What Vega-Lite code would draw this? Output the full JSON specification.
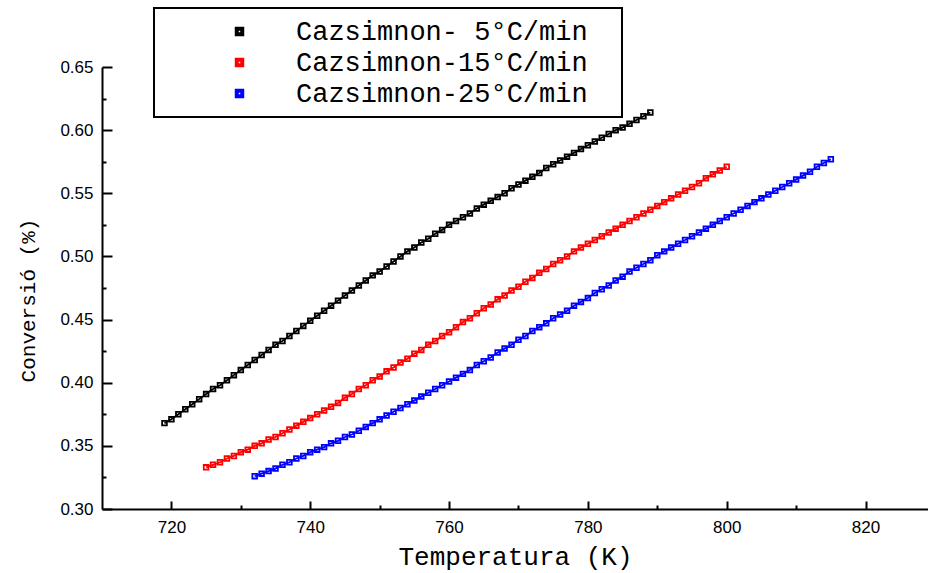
{
  "$schema": "https://vega.github.io/schema/vega-lite/v6.json",
  "width": 826,
  "height": 442,
  "autosize": {"type": "none"},
  "padding": {"left": 102, "top": 67, "right": 0, "bottom": 64},
  "background": "white",
  "config": {
    "view": {"stroke": null},
    "axis": {"grid": false, "domainColor": "black", "tickColor": "black", "domainWidth": 2, "tickWidth": 2, "labelColor": "black", "titleColor": "black"},
    "legend": {"strokeWidth": 2}
  },
  "data": {"values": [
    {"s":"5","T":719,"c":0.368},{"s":"5","T":720,"c":0.371},{"s":"5","T":721,"c":0.375},{"s":"5","T":722,"c":0.379},{"s":"5","T":723,"c":0.383},{"s":"5","T":724,"c":0.387},{"s":"5","T":725,"c":0.391},{"s":"5","T":726,"c":0.395},{"s":"5","T":727,"c":0.398},{"s":"5","T":728,"c":0.402},{"s":"5","T":729,"c":0.406},{"s":"5","T":730,"c":0.410},{"s":"5","T":731,"c":0.414},{"s":"5","T":732,"c":0.418},{"s":"5","T":733,"c":0.422},{"s":"5","T":734,"c":0.426},{"s":"5","T":735,"c":0.430},{"s":"5","T":736,"c":0.433},{"s":"5","T":737,"c":0.437},{"s":"5","T":738,"c":0.441},{"s":"5","T":739,"c":0.445},{"s":"5","T":740,"c":0.449},{"s":"5","T":741,"c":0.453},{"s":"5","T":742,"c":0.457},{"s":"5","T":743,"c":0.461},{"s":"5","T":744,"c":0.465},{"s":"5","T":745,"c":0.469},{"s":"5","T":746,"c":0.473},{"s":"5","T":747,"c":0.477},{"s":"5","T":748,"c":0.481},{"s":"5","T":749,"c":0.485},{"s":"5","T":750,"c":0.488},{"s":"5","T":751,"c":0.492},{"s":"5","T":752,"c":0.496},{"s":"5","T":753,"c":0.500},{"s":"5","T":754,"c":0.504},{"s":"5","T":755,"c":0.507},{"s":"5","T":756,"c":0.511},{"s":"5","T":757,"c":0.514},{"s":"5","T":758,"c":0.518},{"s":"5","T":759,"c":0.521},{"s":"5","T":760,"c":0.525},{"s":"5","T":761,"c":0.528},{"s":"5","T":762,"c":0.531},{"s":"5","T":763,"c":0.534},{"s":"5","T":764,"c":0.538},{"s":"5","T":765,"c":0.541},{"s":"5","T":766,"c":0.544},{"s":"5","T":767,"c":0.547},{"s":"5","T":768,"c":0.550},{"s":"5","T":769,"c":0.554},{"s":"5","T":770,"c":0.557},{"s":"5","T":771,"c":0.560},{"s":"5","T":772,"c":0.563},{"s":"5","T":773,"c":0.566},{"s":"5","T":774,"c":0.570},{"s":"5","T":775,"c":0.573},{"s":"5","T":776,"c":0.576},{"s":"5","T":777,"c":0.579},{"s":"5","T":778,"c":0.582},{"s":"5","T":779,"c":0.585},{"s":"5","T":780,"c":0.588},{"s":"5","T":781,"c":0.591},{"s":"5","T":782,"c":0.594},{"s":"5","T":783,"c":0.597},{"s":"5","T":784,"c":0.600},{"s":"5","T":785,"c":0.602},{"s":"5","T":786,"c":0.605},{"s":"5","T":787,"c":0.608},{"s":"5","T":788,"c":0.611},{"s":"5","T":789,"c":0.614},
    {"s":"15","T":725,"c":0.333},{"s":"15","T":726,"c":0.335},{"s":"15","T":727,"c":0.337},{"s":"15","T":728,"c":0.340},{"s":"15","T":729,"c":0.342},{"s":"15","T":730,"c":0.345},{"s":"15","T":731,"c":0.347},{"s":"15","T":732,"c":0.350},{"s":"15","T":733,"c":0.352},{"s":"15","T":734,"c":0.355},{"s":"15","T":735,"c":0.357},{"s":"15","T":736,"c":0.360},{"s":"15","T":737,"c":0.363},{"s":"15","T":738,"c":0.366},{"s":"15","T":739,"c":0.369},{"s":"15","T":740,"c":0.372},{"s":"15","T":741,"c":0.375},{"s":"15","T":742,"c":0.378},{"s":"15","T":743,"c":0.381},{"s":"15","T":744,"c":0.384},{"s":"15","T":745,"c":0.388},{"s":"15","T":746,"c":0.391},{"s":"15","T":747,"c":0.395},{"s":"15","T":748,"c":0.398},{"s":"15","T":749,"c":0.402},{"s":"15","T":750,"c":0.405},{"s":"15","T":751,"c":0.409},{"s":"15","T":752,"c":0.412},{"s":"15","T":753,"c":0.416},{"s":"15","T":754,"c":0.419},{"s":"15","T":755,"c":0.423},{"s":"15","T":756,"c":0.426},{"s":"15","T":757,"c":0.430},{"s":"15","T":758,"c":0.433},{"s":"15","T":759,"c":0.437},{"s":"15","T":760,"c":0.440},{"s":"15","T":761,"c":0.444},{"s":"15","T":762,"c":0.448},{"s":"15","T":763,"c":0.451},{"s":"15","T":764,"c":0.455},{"s":"15","T":765,"c":0.459},{"s":"15","T":766,"c":0.462},{"s":"15","T":767,"c":0.466},{"s":"15","T":768,"c":0.469},{"s":"15","T":769,"c":0.473},{"s":"15","T":770,"c":0.476},{"s":"15","T":771,"c":0.480},{"s":"15","T":772,"c":0.483},{"s":"15","T":773,"c":0.487},{"s":"15","T":774,"c":0.490},{"s":"15","T":775,"c":0.494},{"s":"15","T":776,"c":0.497},{"s":"15","T":777,"c":0.500},{"s":"15","T":778,"c":0.504},{"s":"15","T":779,"c":0.507},{"s":"15","T":780,"c":0.510},{"s":"15","T":781,"c":0.513},{"s":"15","T":782,"c":0.516},{"s":"15","T":783,"c":0.519},{"s":"15","T":784,"c":0.522},{"s":"15","T":785,"c":0.525},{"s":"15","T":786,"c":0.528},{"s":"15","T":787,"c":0.531},{"s":"15","T":788,"c":0.534},{"s":"15","T":789,"c":0.537},{"s":"15","T":790,"c":0.540},{"s":"15","T":791,"c":0.543},{"s":"15","T":792,"c":0.546},{"s":"15","T":793,"c":0.549},{"s":"15","T":794,"c":0.552},{"s":"15","T":795,"c":0.555},{"s":"15","T":796,"c":0.558},{"s":"15","T":797,"c":0.562},{"s":"15","T":798,"c":0.565},{"s":"15","T":799,"c":0.568},{"s":"15","T":800,"c":0.571},
    {"s":"25","T":732,"c":0.326},{"s":"25","T":733,"c":0.328},{"s":"25","T":734,"c":0.330},{"s":"25","T":735,"c":0.332},{"s":"25","T":736,"c":0.335},{"s":"25","T":737,"c":0.337},{"s":"25","T":738,"c":0.340},{"s":"25","T":739,"c":0.342},{"s":"25","T":740,"c":0.345},{"s":"25","T":741,"c":0.347},{"s":"25","T":742,"c":0.349},{"s":"25","T":743,"c":0.352},{"s":"25","T":744,"c":0.354},{"s":"25","T":745,"c":0.357},{"s":"25","T":746,"c":0.359},{"s":"25","T":747,"c":0.362},{"s":"25","T":748,"c":0.365},{"s":"25","T":749,"c":0.368},{"s":"25","T":750,"c":0.371},{"s":"25","T":751,"c":0.374},{"s":"25","T":752,"c":0.377},{"s":"25","T":753,"c":0.380},{"s":"25","T":754,"c":0.383},{"s":"25","T":755,"c":0.386},{"s":"25","T":756,"c":0.389},{"s":"25","T":757,"c":0.392},{"s":"25","T":758,"c":0.395},{"s":"25","T":759,"c":0.398},{"s":"25","T":760,"c":0.401},{"s":"25","T":761,"c":0.404},{"s":"25","T":762,"c":0.407},{"s":"25","T":763,"c":0.410},{"s":"25","T":764,"c":0.414},{"s":"25","T":765,"c":0.417},{"s":"25","T":766,"c":0.420},{"s":"25","T":767,"c":0.424},{"s":"25","T":768,"c":0.427},{"s":"25","T":769,"c":0.430},{"s":"25","T":770,"c":0.434},{"s":"25","T":771,"c":0.437},{"s":"25","T":772,"c":0.441},{"s":"25","T":773,"c":0.444},{"s":"25","T":774,"c":0.447},{"s":"25","T":775,"c":0.451},{"s":"25","T":776,"c":0.454},{"s":"25","T":777,"c":0.457},{"s":"25","T":778,"c":0.461},{"s":"25","T":779,"c":0.464},{"s":"25","T":780,"c":0.467},{"s":"25","T":781,"c":0.471},{"s":"25","T":782,"c":0.474},{"s":"25","T":783,"c":0.477},{"s":"25","T":784,"c":0.481},{"s":"25","T":785,"c":0.484},{"s":"25","T":786,"c":0.488},{"s":"25","T":787,"c":0.491},{"s":"25","T":788,"c":0.494},{"s":"25","T":789,"c":0.497},{"s":"25","T":790,"c":0.501},{"s":"25","T":791,"c":0.504},{"s":"25","T":792,"c":0.507},{"s":"25","T":793,"c":0.510},{"s":"25","T":794,"c":0.513},{"s":"25","T":795,"c":0.516},{"s":"25","T":796,"c":0.519},{"s":"25","T":797,"c":0.522},{"s":"25","T":798,"c":0.525},{"s":"25","T":799,"c":0.528},{"s":"25","T":800,"c":0.531},{"s":"25","T":801,"c":0.534},{"s":"25","T":802,"c":0.537},{"s":"25","T":803,"c":0.540},{"s":"25","T":804,"c":0.543},{"s":"25","T":805,"c":0.546},{"s":"25","T":806,"c":0.549},{"s":"25","T":807,"c":0.552},{"s":"25","T":808,"c":0.555},{"s":"25","T":809,"c":0.558},{"s":"25","T":810,"c":0.561},{"s":"25","T":811,"c":0.564},{"s":"25","T":812,"c":0.567},{"s":"25","T":813,"c":0.571},{"s":"25","T":814,"c":0.574},{"s":"25","T":815,"c":0.577}
  ]},
  "encoding": {
    "color": {
      "field": "s", "type": "nominal",
      "scale": {"domain": ["5", "15", "25"], "range": ["#000000", "#ff0000", "#0000ff"]},
      "legend": {
        "orient": "none", "legendX": 52, "legendY": -59,
        "title": " ", "titleOrient": "right", "titlePadding": 24, "titleFontSize": 4,
        "labelExpr": "datum.label == '5' ? 'Cazsimnon- 5°C/min' : 'Cazsimnon-' + datum.label + '°C/min'",
        "labelFont": "Liberation Mono", "labelFontSize": 27, "labelColor": "black", "labelLimit": 600,
        "labelOffset": 43, "symbolOffset": 62, "symbolType": "square", "symbolSize": 30, "symbolStrokeWidth": 4,
        "padding": 10, "rowPadding": 3, "strokeColor": "black", "fillColor": "white"
      }
    }
  },
  "layer": [
    {
      "mark": {"type": "line", "strokeWidth": 1.8},
      "encoding": {
        "x": {"field": "T", "type": "quantitative",
          "scale": {"domain": [710, 829], "nice": false, "zero": false},
          "axis": {"orient": "bottom", "values": [720, 740, 760, 780, 800, 820], "tickSize": -8, "labelPadding": 18,
            "labelFont": "Liberation Sans", "labelFontSize": 17, "labelFlush": false,
            "title": "Temperatura (K)", "titleFont": "Liberation Mono", "titleFontSize": 26, "titleFontWeight": "normal", "titlePadding": 8}},
        "y": {"field": "c", "type": "quantitative",
          "scale": {"domain": [0.30, 0.65], "nice": false, "zero": false},
          "axis": {"orient": "left", "values": [0.30, 0.35, 0.40, 0.45, 0.50, 0.55, 0.60, 0.65], "format": ".2f", "tickSize": -10, "labelPadding": 19,
            "labelFont": "Liberation Sans", "labelFontSize": 17, "labelFlush": false,
            "title": "Conversió (%)", "titleFont": "Liberation Mono", "titleFontSize": 21, "titleFontWeight": "normal", "titlePadding": 21, "titleY": 233}}
      }
    },
    {
      "mark": {"type": "point", "shape": "square", "filled": false, "size": 22, "strokeWidth": 1.8, "opacity": 1},
      "encoding": {
        "x": {"field": "T", "type": "quantitative",
          "axis": {"orient": "bottom", "values": [730, 750, 770, 790, 810], "tickSize": -4, "labels": false, "domain": false, "title": null}},
        "y": {"field": "c", "type": "quantitative",
          "axis": {"orient": "left", "values": [0.325, 0.375, 0.425, 0.475, 0.525, 0.575, 0.625], "tickSize": -4, "labels": false, "domain": false, "title": null}}
      }
    }
  ],
  "resolve": {"axis": {"x": "independent", "y": "independent"}}
}
